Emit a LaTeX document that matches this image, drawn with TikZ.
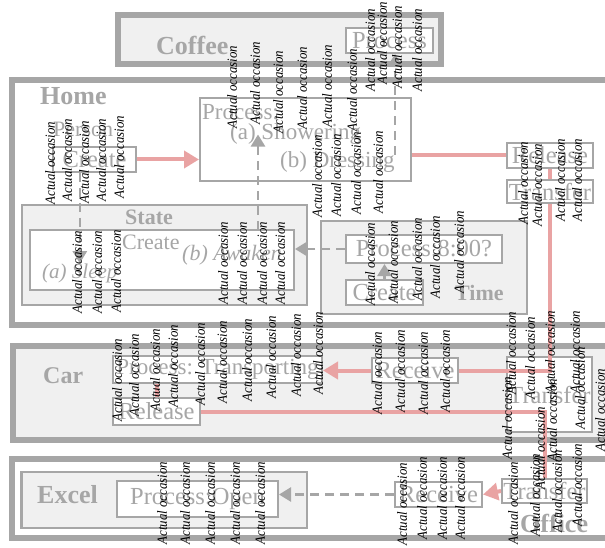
\documentclass[tikz,border=0pt]{standalone}
\usepackage{fontspec}
\setmainfont{Liberation Serif}
\newfontfamily\occfont[FakeStretch=0.92]{Liberation Serif}
\usetikzlibrary{arrows.meta,positioning}
\definecolor{frame}{HTML}{A6A6A6}
\definecolor{shade}{HTML}{F0F0F0}
\definecolor{flow}{HTML}{E9A3A3}
\begin{document}
\begin{tikzpicture}[x=1pt, y=-1pt,
  area/.style={draw=frame, line width=6pt, fill=#1}, area/.default=white,
  panel/.style={draw=frame, line width=2.5pt, fill=#1}, panel/.default=shade,
  box/.style={draw=frame, line width=2pt, fill=white, text=frame, inner sep=0pt,
    font=\fontsize{24.5}{25}\selectfont},
  word/.style={text=frame, inner sep=0pt, anchor=base west, font=\fontsize{23}{24}\selectfont},
  title/.style={text=frame, inner sep=0pt, anchor=base west, font=\fontsize{26}{26}\selectfont\bfseries},
  subtitle/.style={title, font=\fontsize{22}{22}\selectfont\bfseries},
  occ/.style={rotate=90, inner sep=0pt, font=\occfont\fontsize{14}{14}\selectfont\itshape},
  flowline/.style={draw=flow, line width=4pt},
  flowarrow/.style={flowline, -{Triangle[length=15pt, width=17pt]}},
  hint/.style={draw=frame, line width=2.5pt, dash pattern=on 9pt off 6pt, -{Triangle[length=12pt, width=14pt]}},
]
\useasboundingbox (0,0) rectangle (605,548);
% Coffee
\draw[area=shade] (118,15.5) rectangle (441,64.5);
\node[title] (coffee) at (156,55) {Coffee};
\node[box, minimum width=87pt, minimum height=25pt] (cofproc) at (389.5,40.5) {Process};
% Home
\draw[area] (11.5,80) rectangle (625,325);
\node[title] (home) at (40,105) {Home};
\node[word, font=\fontsize{22}{22}\selectfont] (person) at (53,137) {Person};
\node[box, minimum width=83pt, minimum height=25pt] (pcreate) at (94.5,159.5) {Create};
\node[box, minimum width=211pt, minimum height=83pt] (proc) at (305.5,139.5) {};
\node[word] (proclbl) at (202,120) {Process:};
\node[word] (shower) at (230,140) {(a) Showering};
\node[word] (dress) at (280,168) {(b) Dressing};
\node[box, minimum width=86pt, minimum height=25pt] (hrel) at (550,155.5) {Release};
\node[box, minimum width=86pt, minimum height=23pt] (htr) at (550,192) {Transfer};
% State
\draw[panel] (22,205) rectangle (307,305);
\node[subtitle] (state) at (125,225) {State};
\node[box, minimum width=264pt, minimum height=60pt] (sinner) at (162,260) {};
\node[word, font=\fontsize{22}{22}\selectfont] (screate) at (122,250) {Create};
\node[word, font=\fontsize{22}{22}\selectfont\itshape] (awaken) at (182,260) {(b) Awaken};
\node[word, font=\fontsize{21}{21}\selectfont\itshape] (sleep) at (42,278) {(a) Sleep};
% Time
\draw[panel] (321,221) rectangle (527,314);
\node[box, minimum width=156pt, minimum height=28pt] (p800) at (424,249) {Process:8:00?};
\node[box, minimum width=77pt, minimum height=25pt] (tcreate) at (384.5,292.5) {Create};
\node[subtitle] (time) at (455,300) {Time};
% Car
\draw[area=shade] (12.5,345.5) rectangle (625,439.5);
\node[title, font=\fontsize{24}{24}\selectfont\bfseries] (car) at (43,383) {Car};
\node[box, minimum width=209pt, minimum height=27pt, font=\fontsize{23}{24}\selectfont] (ctrans) at (217.5,369.5) {Process: Transporting};
\node[box, minimum width=87pt, minimum height=27pt] (crel) at (156.5,411.5) {Release};
\node[box, minimum width=86pt, minimum height=25pt] (crecv) at (415,370.5) {Receive};
\node[box, minimum width=85pt, minimum height=75pt] (ctr) at (549.5,394.5) {Transfer};
% Office
\draw[area] (11.5,459) rectangle (625,537.5);
\draw[panel] (21.5,472) rectangle (307,528);
\node[title] (excel) at (37,503) {Excel};
\node[box, minimum width=161pt, minimum height=36pt] (oproc) at (197.5,499) {Process:Open};
\node[box, minimum width=87pt, minimum height=25pt] (orecv) at (438.5,494.5) {Receive};
\node[box, minimum width=85pt, minimum height=24pt] (otr) at (544.5,491) {Transfer};
\node[title] (office) at (520,532) {Office};
% transfers
\draw[flowarrow] (pcreate.east) -- (pcreate.east -| proc.west);
\draw[flowline] (hrel.west -| proc.east) -- (hrel.west);
\draw[flowline] (hrel.south) -- (htr.north);
\draw[flowline] (htr.south) |- (crecv.east);
\draw[flowarrow] (crecv.west) -- (crecv.west -| ctrans.east);
\draw[flowline] (ctrans.south -| crel.north) -- (crel.north);
\draw[flowline] (crel.east) -| (otr.north);
\draw[flowarrow] (otr.west) -- (orecv.east);
% prehensions
\coordinate (wake) at (258,230);
\coordinate (dressup) at (395,155);
\draw[hint] (pcreate.south -| sleep.north) -- (sleep.north);
\draw[hint] (wake) -- (wake |- shower.center);
\draw[hint] (dressup) -- (dressup |- cofproc.south);
\draw[hint] (p800.west) -- (p800.west -| sinner.east);
\draw[hint] (tcreate.north) -- (tcreate.north |- p800.south);
\draw[hint] (orecv.west) -- (orecv.west -| oproc.east);
% occasions
\foreach \x/\y [count=\i] in {50/163, 67/160, 84/162, 101/160, 119/157}
  \node[occ] (occa\i) at (\x,\y) {Actual occasion};
\foreach \x/\y [count=\i] in {77/272, 97/272, 116/271, 223/263, 242/263, 262/263, 280/263}
  \node[occ] (occb\i) at (\x,\y) {Actual occasion};
\foreach \x/\y [count=\i] in {232/87, 255/83, 278/92, 302/88, 327/86, 352/90,
    370/50, 382/43, 397/47, 417/50, 317/176, 336/175, 356/173, 378/172}
  \node[occ] (occc\i) at (\x,\y) {Actual occasion};
\foreach \x/\y [count=\i] in {523/183, 537/185, 560/180, 577/180,
    370/264, 393/262, 417/259, 435/257, 459/252}
  \node[occ] (occd\i) at (\x,\y) {Actual occasion};
\foreach \x/\y [count=\i] in {117/380, 134/375, 155/370, 173/366, 200/364,
    222/362, 247/360, 271/357, 296/355, 318/353,
    377/373, 400/371, 423/373, 445/371}
  \node[occ] (occe\i) at (\x,\y) {Actual occasion};
\foreach \x/\y [count=\i] in {511/353, 530/358, 550/352, 575/352, 580/388, 600/410,
    507/418, 540/448, 552/420}
  \node[occ] (occf\i) at (\x,\y) {Actual occasion};
\foreach \x/\y [count=\i] in {162/503, 185/503, 210/503, 235/503, 260/503,
    402/504, 422/498, 442/498, 460/498,
    513/503, 535/495, 557/491, 577/485}
  \node[occ] (occg\i) at (\x,\y) {Actual occasion};
\end{tikzpicture}
\end{document}
